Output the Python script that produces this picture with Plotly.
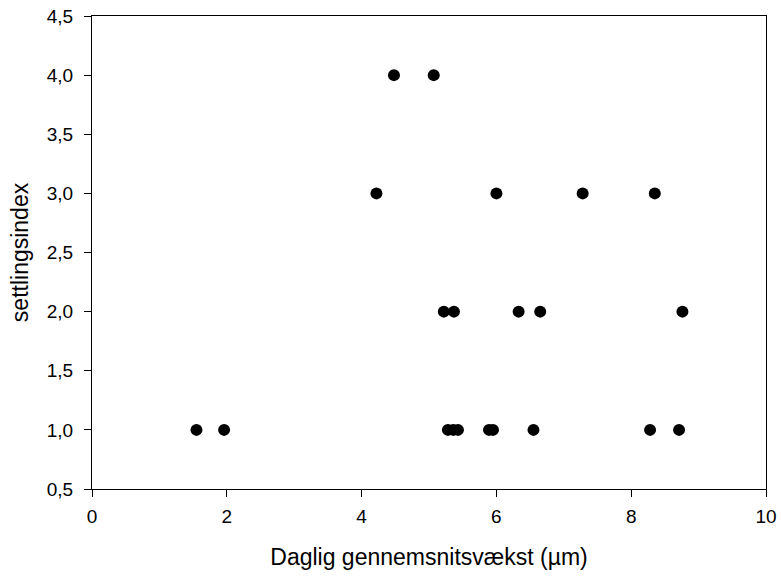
import plotly.graph_objects as go

# Daily average growth (µm) and settling index
growth = [1.55, 1.96, 5.28, 5.36, 5.43, 5.89, 5.95, 6.55, 8.28, 8.71,
          5.22, 5.37, 6.33, 6.65, 8.76,
          4.22, 6.00, 7.28, 8.35,
          4.48, 5.07]
settling = [1, 1, 1, 1, 1, 1, 1, 1, 1, 1,
            2, 2, 2, 2, 2,
            3, 3, 3, 3,
            4, 4]

x_ticks = [0, 2, 4, 6, 8, 10]
y_ticks = [0.5, 1.0, 1.5, 2.0, 2.5, 3.0, 3.5, 4.0, 4.5]

fig = go.Figure()
fig.add_trace(go.Scatter(
    x=growth, y=settling, mode="markers",
    marker=dict(color="black", size=12, line=dict(width=0)),
    showlegend=False,
))

font_family = "Liberation Sans, Arial, sans-serif"
fig.update_layout(
    template="none",
    width=781, height=576,
    margin=dict(l=91.5, r=14.5, t=15.7, b=87),
    paper_bgcolor="white", plot_bgcolor="white",
    separators=",.",
    font=dict(family=font_family, color="black", size=19),
    xaxis=dict(
        range=[0, 10], tickvals=x_ticks, tickformat="d",
        ticks="outside", ticklen=7, tickcolor="black", tickwidth=1,
        showline=True, linecolor="black", linewidth=1, mirror=True,
        showgrid=False, zeroline=False, automargin=False,
        tickfont=dict(size=19), ticklabelstandoff=3, ticklabeloverflow="allow",
        title=dict(text="Daglig gennemsnitsvækst (µm)", font=dict(size=23), standoff=23),
    ),
    yaxis=dict(
        range=[0.5, 4.5], tickvals=y_ticks, tickformat=".1f",
        ticks="outside", ticklen=7, tickcolor="black", tickwidth=1,
        showline=True, linecolor="black", linewidth=1, mirror=True,
        showgrid=False, zeroline=False, automargin=False,
        tickfont=dict(size=19), ticklabelstandoff=7, ticklabeloverflow="allow",
        title=dict(text="settlingsindex", font=dict(size=23), standoff=11),
    ),
)

# remove the default 8px page margin so the figure fills the window exactly
fig.write_html("out.html", config={"displayModeBar": False},
               post_script="document.body.style.margin='0';")
